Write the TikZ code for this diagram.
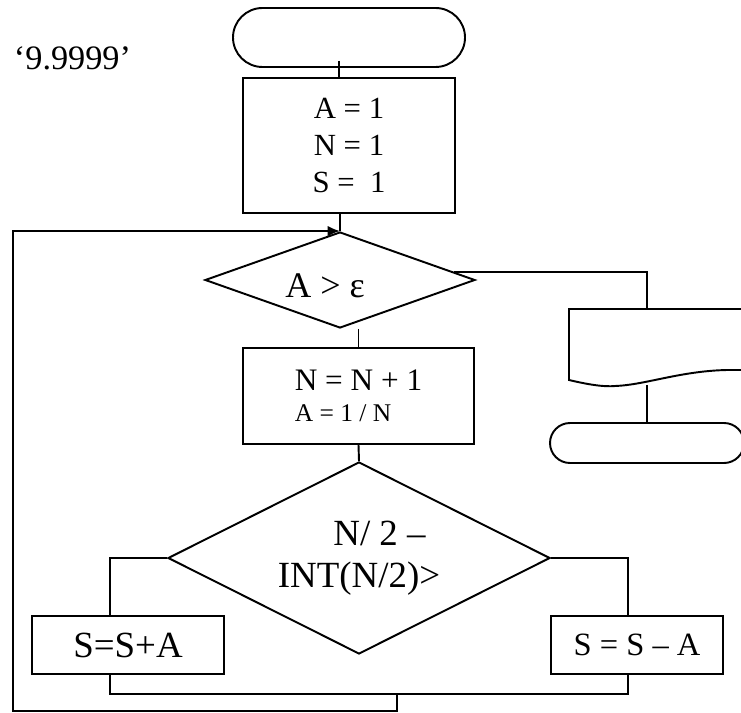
\documentclass[tikz,border=0pt]{standalone}
\usepackage{fontspec}
\setmainfont{Liberation Serif}
\usetikzlibrary{shapes.geometric,shapes.misc,arrows.meta}

\begin{document}
\begin{tikzpicture}[line width=1.1pt,
    term/.style={draw,rounded rectangle,inner sep=0pt},
    blk/.style={draw,rectangle,inner sep=0pt},
    test/.style={draw,diamond,aspect=2,inner sep=0pt}]
  \useasboundingbox (0,0) rectangle (14.82,-14.24);
  \node[anchor=base west,inner sep=0pt,font=\fontsize{19.5}{22}\selectfont] (eps) at (0.26,-1.40) {‘9.9999’};
  \node[term,minimum width=4.64cm,minimum height=1.18cm] (start) at (6.98,-0.75) {};
  \node[blk,minimum width=4.24cm,minimum height=2.70cm,align=center,font=\fontsize{17.5}{21}\selectfont] (init) at (6.98,-2.91) {A = 1\\N = 1\\S =\ \ 1};
  \node[test,minimum width=5.40cm,minimum height=1.92cm] (cond1) at (6.80,-5.60) {};
  \node[inner sep=0pt,font=\fontsize{20.5}{24}\selectfont] (cond1txt) at ([xshift=-0.3cm,yshift=-0.11cm]cond1) {A > ε};
  \node[blk,minimum width=4.62cm,minimum height=1.92cm,align=left,font=\fontsize{14.5}{17.6}\selectfont] (step) at (7.17,-7.92)
    {{\fontsize{17.8}{17.6}\selectfont N = N + 1}\\A = 1 / N};
  \node[test,minimum width=7.64cm,minimum height=3.84cm,align=center,font=\fontsize{21}{24}\selectfont] (cond2) at (7.18,-11.16)
    {\hspace*{0.82cm}N/ 2 –\\INT(N/2)>};
  \node[blk,minimum width=3.84cm,minimum height=1.16cm,font=\fontsize{21}{24}\selectfont] (plus) at (2.56,-12.90) {S=S+A};
  \node[blk,minimum width=3.44cm,minimum height=1.16cm,font=\fontsize{18.5}{22}\selectfont] (minus) at (12.74,-12.90) {S = S – A};
  \node[term,minimum width=3.88cm,minimum height=0.80cm] (stop) at (12.94,-8.86) {};
  % output sheet
  \draw (15.2,-6.18) -- (11.38,-6.18) -- (11.38,-7.60) .. controls (11.8,-7.70) and (12.1,-7.74) .. (12.3,-7.72)
    .. controls (12.9,-7.70) and (13.6,-7.42) .. (14.54,-7.40) -- (15.2,-7.40);
  \coordinate (docT) at (12.94,-6.18);
  \coordinate (docB) at (12.94,-7.70);
  \coordinate (merge) at (7.94,-13.86);
  \coordinate (loop) at (0.26,-14.22);
  \draw ([shift={(-0.2,0.14)}]start.south) -- ([xshift=-0.2cm]init.north);
  \draw (cond1.north |- init.south) -- (cond1.north);
  \draw (cond1.4) -| (docT);
  \draw (docB) -- (stop.north);
  \draw (step.north |- cond1.south) -- (step.north);
  \draw (step.south) -- (cond2.north);
  \draw (cond2.west) -| ([xshift=-0.36cm]plus.north);
  \draw (cond2.east) -| ([xshift=-0.18cm]minus.north);
  \draw ([xshift=-0.36cm]plus.south) -- ++(0,-0.38) -| ([xshift=-0.18cm]minus.south);
  \draw[-{Latex[length=7pt,width=6pt]}] (merge) |- (loop) |- (cond1.north);
\end{tikzpicture}
\end{document}
